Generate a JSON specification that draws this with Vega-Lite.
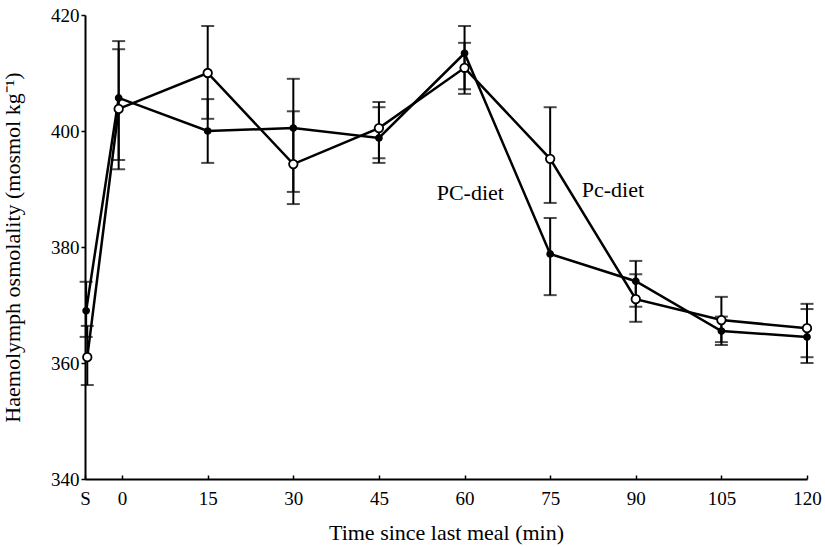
{
  "$schema": "https://vega.github.io/schema/vega-lite/v6.json",
  "autosize": "none",
  "width": 722,
  "height": 464,
  "padding": {"left": 85, "top": 15, "right": 18, "bottom": 68},
  "background": "white",
  "datasets": {
    "pts": [
      {"diet": "PC-diet", "time": -6.3, "mean": 369.0, "lower": 364.5, "upper": 374.0},
      {"diet": "PC-diet", "time": -0.6, "mean": 405.7, "lower": 395.0, "upper": 415.5},
      {"diet": "PC-diet", "time": 15, "mean": 400.0, "lower": 394.5, "upper": 405.5},
      {"diet": "PC-diet", "time": 30, "mean": 400.5, "lower": 389.5, "upper": 409.0},
      {"diet": "PC-diet", "time": 45, "mean": 398.8, "lower": 394.5, "upper": 404.1},
      {"diet": "PC-diet", "time": 60, "mean": 413.4, "lower": 407.2, "upper": 418.1},
      {"diet": "PC-diet", "time": 75, "mean": 378.8, "lower": 371.7, "upper": 385.0},
      {"diet": "PC-diet", "time": 90, "mean": 374.1, "lower": 369.7, "upper": 377.6},
      {"diet": "PC-diet", "time": 105, "mean": 365.5, "lower": 363.1, "upper": 368.0},
      {"diet": "PC-diet", "time": 120, "mean": 364.5, "lower": 360.0, "upper": 369.3},
      {"diet": "Pc-diet", "time": -6.1, "mean": 361.0, "lower": 356.2, "upper": 366.4},
      {"diet": "Pc-diet", "time": -0.6, "mean": 403.8, "lower": 393.4, "upper": 414.1},
      {"diet": "Pc-diet", "time": 15, "mean": 410.0, "lower": 402.1, "upper": 418.1},
      {"diet": "Pc-diet", "time": 30, "mean": 394.3, "lower": 387.4, "upper": 403.4},
      {"diet": "Pc-diet", "time": 45, "mean": 400.5, "lower": 395.3, "upper": 405.0},
      {"diet": "Pc-diet", "time": 60, "mean": 410.9, "lower": 406.4, "upper": 415.2},
      {"diet": "Pc-diet", "time": 75, "mean": 395.2, "lower": 387.6, "upper": 404.1},
      {"diet": "Pc-diet", "time": 90, "mean": 371.0, "lower": 367.1, "upper": 375.3},
      {"diet": "Pc-diet", "time": 105, "mean": 367.4, "lower": 363.6, "upper": 371.4},
      {"diet": "Pc-diet", "time": 120, "mean": 366.0, "lower": 361.0, "upper": 370.2}
    ],
    "labels": [
      {"label": "PC-diet", "time": 61, "value": 389.3},
      {"label": "Pc-diet", "time": 86, "value": 389.8}
    ]
  },
  "encoding": {
    "x": {
      "field": "time",
      "type": "quantitative",
      "scale": {"domain": [-6.5, 120], "nice": false, "zero": false},
      "axis": {
        "title": "Time since last meal (min)",
        "values": [-6.5, 0, 15, 30, 45, 60, 75, 90, 105, 120],
        "labelExpr": "datum.value < -1 ? 'S' : datum.label",
        "tickSize": -4,
        "labelPadding": 14,
        "titlePadding": 14,
        "labelFlush": false
      }
    }
  },
  "layer": [
    {
      "data": {"name": "pts"},
      "mark": {"type": "rule", "color": "black", "strokeWidth": 2},
      "encoding": {
        "y": {
          "field": "lower",
          "type": "quantitative",
          "scale": {"domain": [340, 420], "nice": false, "zero": false},
          "axis": {
            "title": "Haemolymph osmolality (mosmol kg⁻¹)",
            "values": [340, 360, 380, 400, 420],
            "tickSize": 4,
            "labelPadding": 2,
            "titlePadding": 26
          }
        },
        "y2": {"field": "upper"}
      }
    },
    {
      "data": {"name": "pts"},
      "mark": {"type": "tick", "color": "black", "size": 13, "thickness": 2, "orient": "horizontal"},
      "encoding": {"y": {"field": "lower", "type": "quantitative"}}
    },
    {
      "data": {"name": "pts"},
      "mark": {"type": "tick", "color": "black", "size": 13, "thickness": 2, "orient": "horizontal"},
      "encoding": {"y": {"field": "upper", "type": "quantitative"}}
    },
    {
      "data": {"name": "pts"},
      "mark": {"type": "line", "color": "black", "strokeWidth": 2.5},
      "encoding": {
        "y": {"field": "mean", "type": "quantitative"},
        "detail": {"field": "diet"},
        "order": {"field": "time"}
      }
    },
    {
      "data": {"name": "pts"},
      "mark": {"type": "point", "filled": false, "stroke": "black", "strokeWidth": 1.8, "opacity": 1},
      "encoding": {
        "y": {"field": "mean", "type": "quantitative"},
        "fill": {"field": "diet", "type": "nominal", "scale": {"domain": ["PC-diet", "Pc-diet"], "range": ["black", "white"]}, "legend": null},
        "size": {"field": "diet", "type": "nominal", "scale": {"domain": ["PC-diet", "Pc-diet"], "range": [35, 72]}, "legend": null}
      }
    },
    {
      "data": {"name": "labels"},
      "mark": {"type": "text", "font": "Liberation Serif", "fontSize": 22, "color": "black"},
      "encoding": {
        "y": {"field": "value", "type": "quantitative"},
        "text": {"field": "label"}
      }
    }
  ],
  "config": {
    "view": {"stroke": null},
    "font": "Liberation Serif",
    "axis": {
      "grid": false,
      "domainColor": "black",
      "domainWidth": 2,
      "tickColor": "black",
      "tickWidth": 1.5,
      "labelColor": "black",
      "titleColor": "black",
      "labelFont": "Liberation Serif",
      "titleFont": "Liberation Serif",
      "labelFontSize": 19,
      "titleFontSize": 22,
      "titleFontWeight": "normal"
    }
  }
}
